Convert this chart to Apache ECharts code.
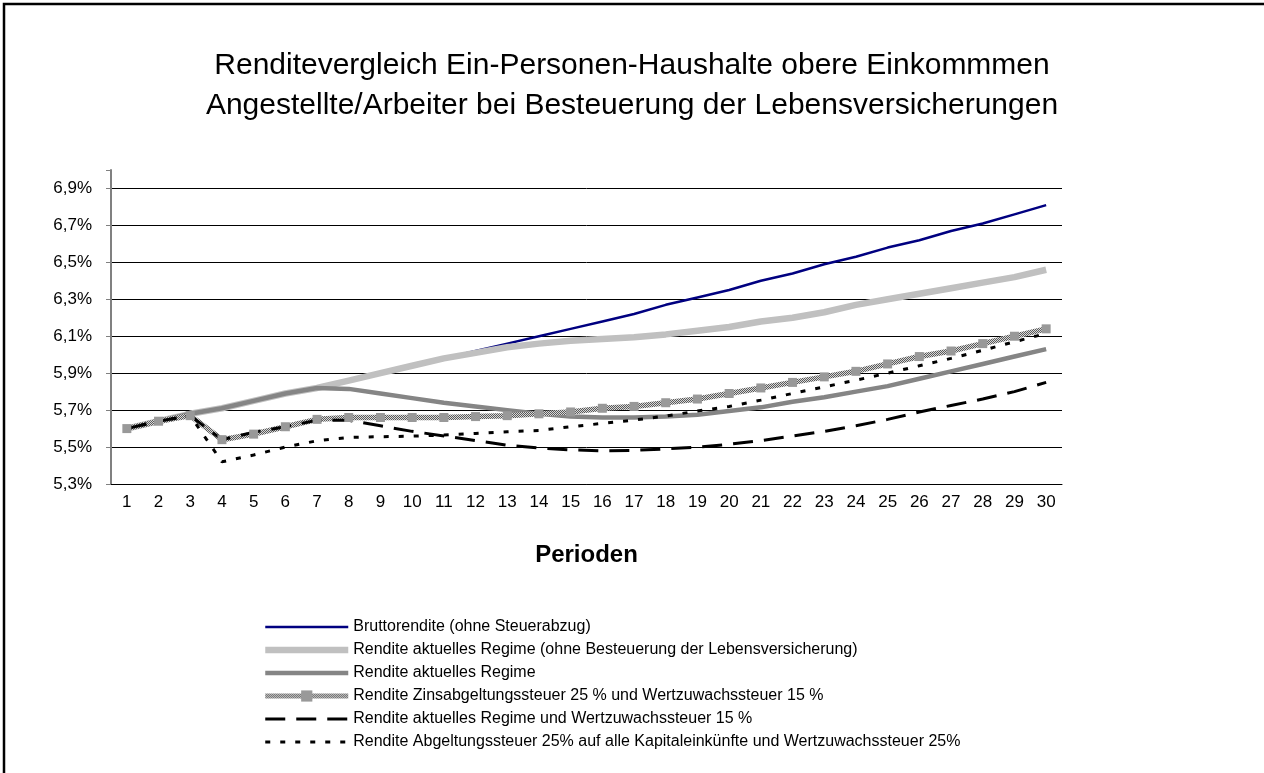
<!DOCTYPE html>
<html>
<head>
<meta charset="utf-8">
<title>Renditevergleich</title>
<script src="https://cdn.jsdelivr.net/npm/echarts@6/dist/echarts.min.js"></script>
<style>
  html, body { margin: 0; padding: 0; background: #fff; }
  #main { width: 1264px; height: 773px; }
</style>
</head>
<body>
<div id="main"></div>
<script>
// Perioden 1..30
const perioden = ['1', '2', '3', '4', '5', '6', '7', '8', '9', '10',
  '11', '12', '13', '14', '15', '16', '17', '18', '19', '20',
  '21', '22', '23', '24', '25', '26', '27', '28', '29', '30'];

// Renditen in Prozent
const brutto = [5.60, 5.64, 5.68, 5.71, 5.75, 5.79, 5.82, 5.86, 5.90, 5.94,
  5.98, 6.02, 6.06, 6.10, 6.14, 6.18, 6.22, 6.27, 6.31, 6.35,
  6.40, 6.44, 6.49, 6.53, 6.58, 6.62, 6.67, 6.71, 6.76, 6.81];
const ohneLV = [5.60, 5.64, 5.68, 5.71, 5.75, 5.79, 5.82, 5.86, 5.90, 5.94,
  5.98, 6.01, 6.04, 6.06, 6.075, 6.085, 6.095, 6.11, 6.13, 6.15,
  6.18, 6.20, 6.23, 6.27, 6.30, 6.33, 6.36, 6.39, 6.42, 6.46];
const aktuell = [5.60, 5.64, 5.68, 5.71, 5.75, 5.79, 5.82, 5.815, 5.79, 5.765,
  5.74, 5.72, 5.70, 5.68, 5.665, 5.66, 5.66, 5.665, 5.675, 5.695,
  5.715, 5.745, 5.77, 5.80, 5.83, 5.87, 5.91, 5.95, 5.99, 6.03];
const zinsWz15 = [5.60, 5.64, 5.67, 5.54, 5.57, 5.61, 5.65, 5.66, 5.66, 5.66,
  5.66, 5.665, 5.67, 5.68, 5.69, 5.71, 5.72, 5.74, 5.76, 5.79,
  5.82, 5.85, 5.88, 5.91, 5.95, 5.99, 6.02, 6.06, 6.10, 6.14];
const aktuellWz15 = [5.60, 5.64, 5.67, 5.54, 5.58, 5.61, 5.645, 5.645, 5.615, 5.585,
  5.56, 5.535, 5.51, 5.495, 5.485, 5.48, 5.482, 5.49, 5.50, 5.515,
  5.535, 5.56, 5.585, 5.615, 5.65, 5.69, 5.725, 5.76, 5.80, 5.85];
const abgeltung25 = [5.60, 5.64, 5.67, 5.42, 5.457, 5.50, 5.534, 5.552, 5.556, 5.559,
  5.565, 5.574, 5.583, 5.59, 5.61, 5.628, 5.646, 5.668, 5.695, 5.72,
  5.754, 5.79, 5.826, 5.862, 5.90, 5.94, 5.98, 6.024, 6.07, 6.115];

const namen = [
  'Bruttorendite (ohne Steuerabzug)',
  'Rendite aktuelles Regime (ohne Besteuerung der Lebensversicherung)',
  'Rendite aktuelles Regime',
  'Rendite Zinsabgeltungssteuer 25 % und Wertzuwachssteuer 15 %',
  'Rendite aktuelles Regime und Wertzuwachssteuer 15 %',
  'Rendite Abgeltungssteuer 25% auf alle Kapitaleinkünfte und Wertzuwachssteuer 25%'
];

// kleines Schraffurmuster fuer die Linie mit Quadraten
const pat = document.createElement('canvas');
pat.width = 2; pat.height = 2;
const pctx = pat.getContext('2d');
pctx.fillStyle = '#d8d8d8';
pctx.fillRect(0, 0, 2, 2);
pctx.fillStyle = '#5a5a5a';
pctx.fillRect(0, 0, 1, 1);
pctx.fillRect(1, 1, 1, 1);

const font = "'Liberation Sans', Arial, sans-serif";

let myChart = echarts.init(document.getElementById('main'));

const ohneSymbol = { opacity: 0 };

const option = {
  animation: false,
  textStyle: { fontFamily: font },
  title: {
    text: 'Renditevergleich Ein-Personen-Haushalte obere Einkommmen\nAngestellte/Arbeiter bei Besteuerung der Lebensversicherungen',
    left: 'center',
    top: 41,
    textStyle: {
      fontFamily: font,
      fontSize: 30,
      fontWeight: 'normal',
      color: '#000',
      lineHeight: 40
    }
  },
  graphic: [{
    type: 'rect',
    silent: true,
    shape: { x: 4, y: 4, width: 1400, height: 900 },
    style: { fill: 'none', stroke: '#000', lineWidth: 2.5 }
  }],
  legend: {
    orient: 'vertical',
    left: 262,
    top: 619,
    padding: 0,
    itemWidth: 83,
    itemHeight: 14,
    itemGap: 7,
    textStyle: { fontFamily: font, fontSize: 16, color: '#000' },
    data: [
      { name: namen[0], itemStyle: ohneSymbol, lineStyle: { width: 2.5 } },
      { name: namen[1], itemStyle: ohneSymbol, lineStyle: { width: 6.5 } },
      { name: namen[2], itemStyle: ohneSymbol, lineStyle: { width: 4.5 } },
      { name: namen[3], lineStyle: { width: 5 } },
      { name: namen[4], itemStyle: ohneSymbol, lineStyle: { width: 3 } },
      { name: namen[5], itemStyle: ohneSymbol, lineStyle: { width: 3 } }
    ]
  },
  grid: {
    left: 111,
    right: 202,
    top: 170,
    bottom: 289
  },
  xAxis: {
    type: 'category',
    data: perioden,
    boundaryGap: true,
    name: 'Perioden',
    nameLocation: 'middle',
    nameGap: 59,
    nameTextStyle: { fontFamily: font, fontSize: 24, fontWeight: 'bold', color: '#000' },
    axisLine: { lineStyle: { color: '#000', width: 1 } },
    axisTick: { length: 5, lineStyle: { color: '#000' } },
    axisLabel: { fontSize: 17, color: '#000', margin: 10, interval: 0 }
  },
  yAxis: {
    type: 'value',
    min: 5.3,
    max: 7.0,
    interval: 0.2,
    axisLine: { show: true, lineStyle: { color: '#808080', width: 2 } },
    axisTick: { show: true, length: 5, lineStyle: { color: '#808080' } },
    axisLabel: {
      fontSize: 17,
      color: '#000',
      margin: 19,
      formatter: function (v) {
        if (v > 6.95) return '';
        return v.toFixed(1).replace('.', ',') + '%';
      }
    },
    splitLine: { show: true, showMaxLine: false, lineStyle: { color: '#000', width: 1 } }
  },
  series: [
    {
      name: namen[0],
      type: 'line',
      data: brutto,
      symbol: 'none',
      lineStyle: { color: '#000080', width: 2.5 },
      itemStyle: { color: '#000080' }
    },
    {
      name: namen[1],
      type: 'line',
      data: ohneLV,
      symbol: 'none',
      lineStyle: { color: '#c0c0c0', width: 6.5 },
      itemStyle: { color: '#c0c0c0' }
    },
    {
      name: namen[2],
      type: 'line',
      data: aktuell,
      symbol: 'none',
      lineStyle: { color: '#858585', width: 4.5 },
      itemStyle: { color: '#858585' }
    },
    {
      name: namen[3],
      type: 'line',
      data: zinsWz15,
      symbol: 'rect',
      symbolSize: 9,
      showSymbol: true,
      lineStyle: { color: { image: pat, repeat: 'repeat' }, width: 5.5 },
      itemStyle: { color: '#999999' }
    },
    {
      name: namen[4],
      type: 'line',
      data: aktuellWz15,
      symbol: 'none',
      lineStyle: { color: '#000', width: 3, type: [20, 11] },
      itemStyle: { color: '#000' }
    },
    {
      name: namen[5],
      type: 'line',
      data: abgeltung25,
      symbol: 'none',
      lineStyle: { color: '#000', width: 3, type: [5, 10] },
      itemStyle: { color: '#000' }
    }
  ]
};

myChart.setOption(option);
</script>
</body>
</html>
